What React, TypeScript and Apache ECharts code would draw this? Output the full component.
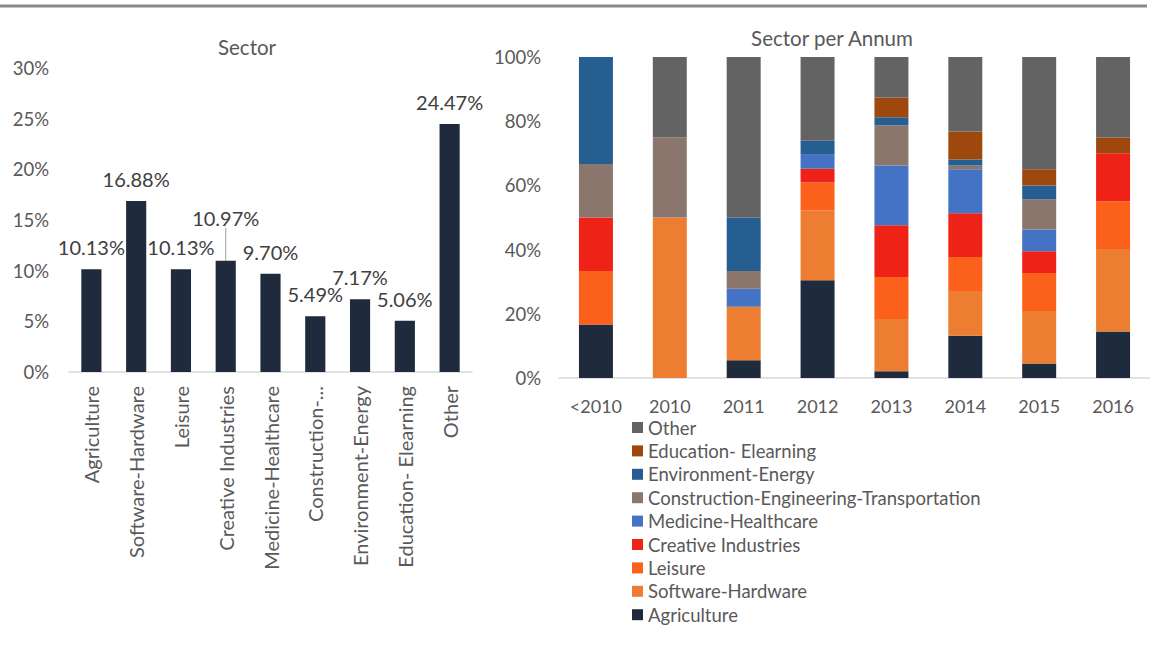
import React, { useEffect, useRef } from "react";
import * as echarts from "echarts";

const sectors = [
  "Agriculture",
  "Software-Hardware",
  "Leisure",
  "Creative Industries",
  "Medicine-Healthcare",
  "Construction-Engineering-Transportation",
  "Environment-Energy",
  "Education- Elearning",
  "Other",
];
const sectorTickLabels = [
  "Agriculture",
  "Software-Hardware",
  "Leisure",
  "Creative Industries",
  "Medicine-Healthcare",
  "Construction-...",
  "Environment-Energy",
  "Education- Elearning",
  "Other",
];
const sectorShare = [10.13, 16.88, 10.13, 10.97, 9.7, 5.49, 7.17, 5.06, 24.47];
const leaderLineIndex = 3;

const years = ["<2010", "2010", "2011", "2012", "2013", "2014", "2015", "2016"];
const agriculture = [16.67, 0, 5.56, 30.43, 2.1, 13.2, 4.5, 14.5];
const softwareHardware = [0, 50, 16.67, 21.74, 16.3, 13.9, 16.4, 25.7];
const leisure = [16.67, 0, 0, 8.7, 13.1, 10.6, 11.8, 14.9];
const creativeIndustries = [16.67, 0, 0, 4.35, 16.1, 13.6, 6.8, 14.9];
const medicineHealthcare = [0, 0, 5.56, 4.35, 18.6, 13.7, 6.8, 0];
const construction = [16.67, 25, 5.56, 0, 12.5, 1.2, 9.4, 0];
const environmentEnergy = [33.33, 0, 16.67, 4.35, 2.5, 1.9, 4.3, 0];
const educationElearning = [0, 0, 0, 0, 6.2, 8.7, 5.0, 4.9];
const other = [0, 25, 50, 26.09, 12.6, 23.2, 35.0, 25.1];

const annualSeries = [
  agriculture,
  softwareHardware,
  leisure,
  creativeIndustries,
  medicineHealthcare,
  construction,
  environmentEnergy,
  educationElearning,
  other,
];
const sectorColors = [
  "#1f2a3c",
  "#ed7d31",
  "#fb611b",
  "#ee2217",
  "#4472c4",
  "#8a766d",
  "#255e91",
  "#9e480e",
  "#636363",
];

const FONT = "Lato";
const TXT = "#595959";

export default function App() {
  const ref = useRef<HTMLDivElement>(null);
  useEffect(() => {
    if (!ref.current) return;
    const chart = echarts.init(ref.current, undefined, { renderer: "svg" });
    const option: any = {
      animation: false,
      textStyle: { fontFamily: FONT },
      title: [
        {
          text: "Sector",
          left: 247,
          top: 36,
          padding: 0,
          textAlign: "center",
          textStyle: { fontFamily: FONT, fontSize: 20.5, fontWeight: "normal", color: TXT },
        },
        {
          text: "Sector per Annum",
          left: 832,
          top: 27,
          padding: 0,
          textAlign: "center",
          textStyle: { fontFamily: FONT, fontSize: 20.5, fontWeight: "normal", color: TXT },
        },
      ],
      graphic: [
        {
          type: "line",
          shape: { x1: 0, y1: 6, x2: 1147, y2: 6 },
          style: { stroke: "#898989", lineWidth: 3 },
        },
      ],
      legend: {
        orient: "vertical",
        left: 627,
        top: 413,
        itemWidth: 11,
        itemHeight: 11,
        itemGap: 4.4,
        icon: "rect",
        data: [...sectors].reverse(),
        textStyle: { fontFamily: FONT, fontSize: 18.5, color: TXT, lineHeight: 18.4 },
      },
      grid: [
        { left: 69, right: 678, top: 68, bottom: 274 },
        { left: 559, width: 596, top: 57, bottom: 268 },
      ],
      xAxis: [
        {
          type: "category",
          gridIndex: 0,
          data: sectors,
          axisLine: { lineStyle: { color: "#d9d9d9", width: 1.5 } },
          axisTick: { show: false },
          axisLabel: {
            rotate: 90,
            margin: 14,
            interval: 0,
            fontFamily: FONT,
            fontSize: 20,
            color: TXT,
            formatter: (_v: string, i: number) => sectorTickLabels[i],
          },
        },
        {
          type: "category",
          gridIndex: 1,
          data: years,
          axisLine: { lineStyle: { color: "#d9d9d9", width: 1.5 } },
          axisTick: { show: false },
          axisLabel: { margin: 19, fontFamily: FONT, fontSize: 18, color: TXT },
        },
      ],
      yAxis: [
        {
          type: "value",
          gridIndex: 0,
          min: 0,
          max: 30,
          interval: 5,
          splitLine: { show: false },
          axisLabel: { formatter: "{value}%", margin: 20, fontFamily: FONT, fontSize: 18.5, color: TXT },
        },
        {
          type: "value",
          gridIndex: 1,
          min: 0,
          max: 100,
          interval: 20,
          splitLine: { show: false },
          axisLabel: { formatter: "{value}%", margin: 18, fontFamily: FONT, fontSize: 18.5, color: TXT },
        },
      ],
      series: [
        {
          type: "bar",
          xAxisIndex: 0,
          yAxisIndex: 0,
          data: sectorShare.map((v, i) =>
            i === leaderLineIndex ? { value: v, labelLine: { show: true } } : { value: v }
          ),
          barWidth: "45%",
          itemStyle: { color: "#1f2a3c" },
          label: {
            show: true,
            position: "top",
            distance: 12,
            fontFamily: FONT,
            fontSize: 20,
            color: "#404040",
            formatter: (p: any) => p.value.toFixed(2) + "%",
          },
          labelLayout: (p: any) => (p.dataIndex === leaderLineIndex ? { dy: -21 } : {}),
          labelLine: { show: false, lineStyle: { color: "#a6a6a6", width: 1 } },
        },
        ...annualSeries.map((data, i) => ({
          type: "bar",
          name: sectors[i],
          xAxisIndex: 1,
          yAxisIndex: 1,
          stack: "annum",
          data,
          barWidth: "46%",
          itemStyle: { color: sectorColors[i] },
        })),
      ],
    };
    chart.setOption(option);
    return () => chart.dispose();
  }, []);
  return (
    <div
      ref={ref}
      style={{ position: "fixed", left: 0, top: 0, width: 1150, height: 646, background: "#fff" }}
    />
  );
}
